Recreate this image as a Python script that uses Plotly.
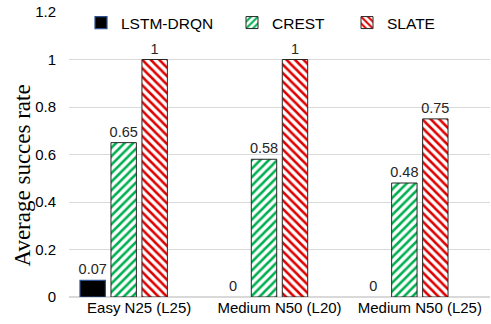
import plotly.graph_objects as go

categories = ["Easy N25 (L25)", "Medium N50 (L20)", "Medium N50 (L25)"]
lstm_drqn = [0.07, 0, 0]
crest = [0.65, 0.58, 0.48]
slate = [1, 1, 0.75]
y_ticks = [0, 0.2, 0.4, 0.6, 0.8, 1, 1.2]
y_tick_labels = ["0", "0.2", "0.4", "0.6", "0.8", "1", "1.2"]

SANS = "Liberation Sans, Arial, sans-serif"
label_font = dict(family=SANS, size=14.5, color="#262626")

# plot area in pixels
PL, PR, PT, PB = 69, 490, 12, 297
PW, PH = PR - PL, PB - PT


def px_x(x):
    return (x - PL) / PW


def px_y(y):
    return (PB - y) / PH


fig = go.Figure()
fig.add_trace(go.Bar(
    x=categories, y=lstm_drqn, name="LSTM-DRQN",
    marker=dict(color="#000000",
                line=dict(color="#2f528f", width=[1.2 if v > 0 else 0 for v in lstm_drqn])),
    text=[f"{v:g}" for v in lstm_drqn], textposition="outside", constraintext="none",
    textfont=label_font, outsidetextfont=label_font, cliponaxis=False, legend="legend",
))
fig.add_trace(go.Bar(
    x=categories, y=crest, name="CREST",
    marker=dict(color="#ffffff", line=dict(color="#262626", width=1),
                pattern=dict(shape="/", fgcolor="#00b050", bgcolor="#ffffff", fgopacity=1,
                             size=6, solidity=0.42, fillmode="replace")),
    text=[f"{v:g}" for v in crest], textposition="outside", constraintext="none",
    textfont=label_font, outsidetextfont=label_font, cliponaxis=False, legend="legend2",
))
fig.add_trace(go.Bar(
    x=categories, y=slate, name="SLATE",
    marker=dict(color="#ffffff", line=dict(color="#262626", width=1),
                pattern=dict(shape="\\", fgcolor="#e00000", bgcolor="#ffffff", fgopacity=1,
                             size=6, solidity=0.42, fillmode="replace")),
    text=[f"{v:g}" for v in slate], textposition="outside", constraintext="none",
    textfont=label_font, outsidetextfont=label_font, cliponaxis=False, legend="legend3",
))
# empty fourth series slot (as in the original chart)
fig.add_trace(go.Bar(
    x=categories, y=[0, 0, 0], name="", showlegend=False,
    marker=dict(color="rgba(0,0,0,0)", line=dict(width=0)), hoverinfo="skip",
))

leg_common = dict(orientation="h", yanchor="middle", xanchor="left",
                  bgcolor="rgba(0,0,0,0)", font=dict(family=SANS, size=15.5, color="#000000"),
                  itemwidth=30, tracegroupgap=0)

fig.update_layout(
    width=491, height=324,
    margin=dict(l=PL, r=491 - PR, t=PT, b=324 - PB),
    paper_bgcolor="#ffffff", plot_bgcolor="#ffffff",
    barmode="group", bargap=0.117, bargroupgap=0.18,
    showlegend=True,
    legend=dict(x=px_x(81), y=px_y(23), **leg_common),
    legend2=dict(x=px_x(232), y=px_y(23), **leg_common),
    legend3=dict(x=px_x(347), y=px_y(23), **leg_common),
    xaxis=dict(showgrid=False, showline=False, ticks="", automargin=False,
               tickfont=dict(family=SANS, size=15, color="#000000")),
    yaxis=dict(range=[0, 1.2], tickvals=y_ticks, ticktext=y_tick_labels, automargin=False,
               showgrid=True, gridcolor="#d9d9d9", gridwidth=1, zeroline=True,
               zerolinecolor="#d9d9d9", showline=False, ticks="", ticklabelstandoff=12,
               tickfont=dict(family=SANS, size=15, color="#000000")),
    annotations=[dict(
        text="Average succes rate", x=px_x(21.5), y=px_y(176), xref="paper", yref="paper",
        xanchor="center", yanchor="middle",
        showarrow=False, textangle=-90,
        font=dict(family="Liberation Serif, Times New Roman, serif", size=23, color="#000000"),
    )],
)

fig.write_html("out.html", config={"displayModeBar": False},
               post_script="document.body.style.margin='0px';")
